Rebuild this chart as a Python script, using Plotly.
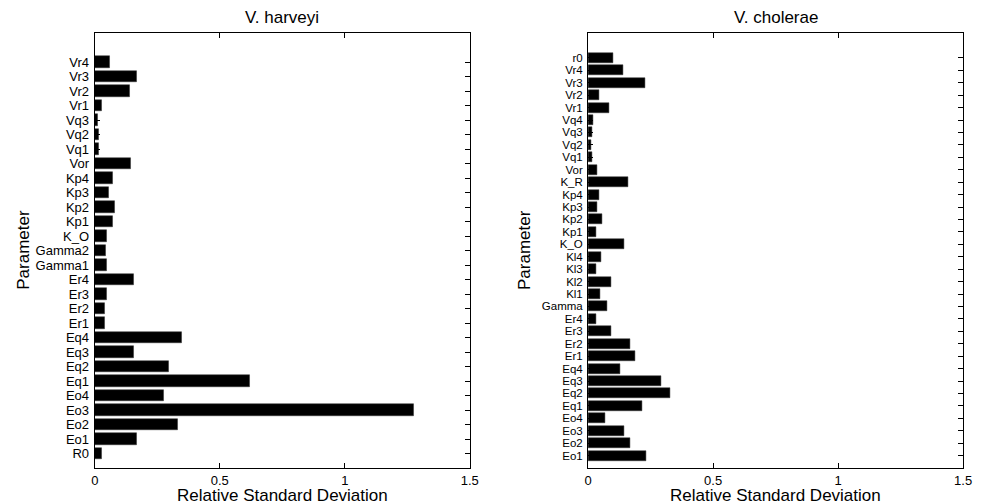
import plotly.graph_objects as go

# V. harveyi
harveyi_params = ["R0", "Eo1", "Eo2", "Eo3", "Eo4", "Eq1", "Eq2", "Eq3", "Eq4",
                  "Er1", "Er2", "Er3", "Er4", "Gamma1", "Gamma2", "K_O",
                  "Kp1", "Kp2", "Kp3", "Kp4", "Vor", "Vq1", "Vq2", "Vq3",
                  "Vr1", "Vr2", "Vr3", "Vr4"]
harveyi_rsd = [0.026, 0.167, 0.333, 1.278, 0.276, 0.619, 0.296, 0.155, 0.349,
               0.038, 0.041, 0.047, 0.155, 0.049, 0.043, 0.047,
               0.073, 0.078, 0.055, 0.071, 0.142, 0.015, 0.015, 0.013,
               0.028, 0.138, 0.166, 0.058]

# V. cholerae
cholerae_params = ["Eo1", "Eo2", "Eo3", "Eo4", "Eq1", "Eq2", "Eq3", "Eq4",
                   "Er1", "Er2", "Er3", "Er4", "Gamma", "Kl1", "Kl2", "Kl3", "Kl4",
                   "K_O", "Kp1", "Kp2", "Kp3", "Kp4", "K_R", "Vor",
                   "Vq1", "Vq2", "Vq3", "Vq4", "Vr1", "Vr2", "Vr3", "Vr4", "r0"]
cholerae_rsd = [0.231, 0.167, 0.144, 0.069, 0.215, 0.330, 0.294, 0.128,
                0.188, 0.167, 0.092, 0.033, 0.074, 0.047, 0.092, 0.030, 0.050,
                0.144, 0.030, 0.057, 0.036, 0.043, 0.159, 0.034,
                0.017, 0.013, 0.016, 0.021, 0.082, 0.043, 0.228, 0.140, 0.100]

x_ticks = [0, 0.5, 1, 1.5]
x_tick_labels = ["0", "0.5", "1", "1.5"]

W, H = 981, 504
FONT = "Liberation Sans, Arial, sans-serif"

fig = go.Figure()
fig.add_trace(go.Bar(x=harveyi_rsd, y=harveyi_params, orientation="h",
                     marker=dict(color="black", line=dict(color="#333", width=0.5)),
                     width=0.8, xaxis="x", yaxis="y", showlegend=False))
fig.add_trace(go.Bar(x=cholerae_rsd, y=cholerae_params, orientation="h",
                     marker=dict(color="black", line=dict(color="#333", width=0.5)),
                     width=0.8, xaxis="x2", yaxis="y2", showlegend=False))

ydom = [(H - 468) / H, (H - 33) / H]
common_x = dict(range=[0, 1.5], tickmode="array", tickvals=x_ticks, ticktext=x_tick_labels,
                ticks="inside", ticklen=5, tickcolor="black", tickwidth=1,
                showline=True, linecolor="black", linewidth=1.2, mirror="ticks",
                showgrid=False, zeroline=False,
                tickfont=dict(family=FONT, size=13, color="black"))
common_y = dict(type="category", ticks="inside", ticklen=5, tickcolor="black",
                tickwidth=1, showline=True, linecolor="black", linewidth=1.2,
                mirror="ticks", showgrid=False, zeroline=False, ticklabelstandoff=2)

fig.update_layout(
    width=W, height=H,
    margin=dict(l=0, r=0, t=0, b=0),
    paper_bgcolor="white", plot_bgcolor="white",
    bargap=0,
    xaxis=dict(domain=[92 / W, 472 / W], anchor="y", **common_x),
    yaxis=dict(domain=ydom, anchor="x", range=[-1, len(harveyi_params) + 1],
               categoryorder="array", categoryarray=harveyi_params,
               tickmode="array", tickvals=harveyi_params, ticktext=harveyi_params,
               tickfont=dict(family=FONT, size=13, color="black"),
               **common_y),
    xaxis2=dict(domain=[592 / W, 972 / W], anchor="y2", **common_x),
    yaxis2=dict(domain=ydom, anchor="x2", range=[-1, len(cholerae_params) + 1],
                categoryorder="array", categoryarray=cholerae_params,
                tickmode="array", tickvals=cholerae_params, ticktext=cholerae_params,
                tickfont=dict(family=FONT, size=11.5, color="black"),
                **common_y),
)

ann_font = dict(family=FONT, size=17, color="black")
annotations = [
    dict(text="V. harveyi", x=282 / W, y=1 - 18 / H),
    dict(text="V. cholerae", x=782 / W, y=1 - 18 / H),
    dict(text="Relative Standard Deviation", x=282 / W, y=1 - 495 / H),
    dict(text="Relative Standard Deviation", x=782 / W, y=1 - 495 / H),
    dict(text="Parameter", x=19 / W, y=1 - 250 / H, textangle=-90),
    dict(text="Parameter", x=527 / W, y=1 - 250 / H, textangle=-90),
]
for a in annotations:
    fig.add_annotation(xref="paper", yref="paper", showarrow=False,
                       xanchor="center", yanchor="middle", font=ann_font, **a)

fig.write_html("out.html")
